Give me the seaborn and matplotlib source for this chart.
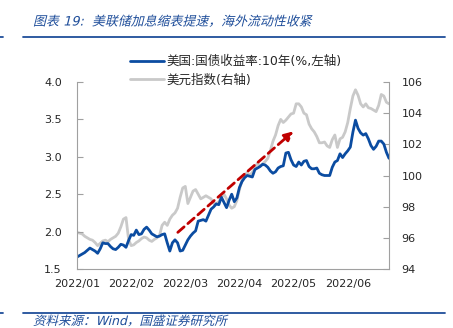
import numpy as np
import pandas as pd
import matplotlib
matplotlib.use("Agg")
import matplotlib.pyplot as plt
import seaborn as sns
from matplotlib.lines import Line2D
from matplotlib.patheffects import AbstractPathEffect
from matplotlib.transforms import Affine2D

# ---------------- data ----------------
us10y = [1.66, 1.68, 1.70, 1.72, 1.75, 1.78, 1.76, 1.74, 1.71, 1.77,
         1.85, 1.84, 1.84, 1.80, 1.77, 1.76, 1.79, 1.83, 1.82, 1.79,
         1.88, 1.96, 1.95, 2.02, 1.96, 1.97, 2.03, 2.06, 2.02, 1.97,
         1.95, 1.93, 1.94, 1.96, 1.97, 1.85, 1.74, 1.85, 1.89, 1.85,
         1.74, 1.75, 1.82, 1.89, 1.94, 1.98, 2.01, 2.14, 2.15, 2.16,
         2.14, 2.22, 2.30, 2.33, 2.37, 2.36, 2.46, 2.39, 2.32, 2.42,
         2.50, 2.40, 2.45, 2.59, 2.67, 2.72, 2.75, 2.74, 2.73, 2.83,
         2.85, 2.87, 2.90, 2.89, 2.86, 2.81, 2.78, 2.80, 2.85, 2.87,
         2.88, 3.05, 3.06, 2.96, 2.89, 2.87, 2.93, 2.89, 2.94, 2.95,
         2.87, 2.84, 2.84, 2.85, 2.78, 2.76, 2.75, 2.75, 2.75, 2.86,
         2.93, 2.95, 3.04, 2.99, 3.04, 3.08, 3.13, 3.33, 3.49, 3.38,
         3.32, 3.29, 3.31, 3.24, 3.15, 3.10, 3.14, 3.21, 3.21, 3.17,
         3.06, 2.98]
dxy = [96.35, 96.30, 96.25, 96.10, 96.00, 95.90, 95.85, 95.70, 95.50, 95.65,
       95.80, 95.85, 95.75, 95.90, 96.00, 96.10, 96.30, 96.70, 97.20, 97.30,
       95.90, 95.50, 95.55, 95.70, 95.80, 95.95, 96.05, 96.00, 95.85, 95.77,
       95.90, 96.00, 96.15, 96.80, 97.00, 96.80, 97.20, 97.45, 97.60, 97.90,
       98.60, 99.20, 99.30, 98.20, 98.60, 99.00, 99.10, 98.80, 98.50, 98.60,
       98.70, 98.60, 98.50, 98.20, 98.20, 98.30, 98.60, 98.80, 98.50, 98.10,
       97.90, 98.00, 98.40, 99.10, 99.70, 100.00, 100.20, 100.00, 100.20, 100.50,
       100.80, 100.60, 100.75, 100.90, 101.10, 101.60, 102.20, 102.60, 103.20, 103.60,
       103.40, 103.55, 103.75, 103.95, 104.00, 104.60, 104.60, 104.40, 104.00, 103.90,
       103.30, 103.00, 102.80, 102.50, 102.10, 102.10, 102.15, 101.90, 101.80, 102.30,
       102.60, 101.80, 102.35, 102.45, 102.80, 103.40, 104.30, 105.10, 105.50, 105.15,
       104.60, 104.40, 104.60, 104.35, 104.30, 104.20, 104.10, 104.50, 105.20, 105.10,
       104.70, 104.60]
tick_labels = ["2022/01", "2022/02", "2022/03", "2022/04", "2022/05", "2022/06"]
series_names = ["美国:国债收益率:10年(%,左轴)", "美元指数(右轴)"]
title_text = "图表 19:  美联储加息缩表提速，海外流动性收紧"
source_text = "资料来源：Wind，国盛证券研究所"
arrow_start = (39.1, 1.99)
arrow_end = (83.9, 3.34)

df = pd.DataFrame({"day": np.arange(len(us10y)), "us10y": us10y, "dxy": dxy})

# ---------------- style ----------------
sns.set_style("white")
FAM = ["DejaVu Sans", "Noto Sans CJK SC"]
plt.rcParams["font.family"] = FAM

BLUE = "#0B4CA1"
GRAY = "#C9C9C9"
TBLUE = "#1F4E9A"
AXC = "#A0A0A0"


class Skew(AbstractPathEffect):
    def __init__(self, deg=12):
        super().__init__()
        self.deg = deg

    def draw_path(self, renderer, gc, tpath, affine, rgbFace=None):
        m = affine.get_matrix()
        x0, y0 = m[0, 2], m[1, 2]
        sk = Affine2D().translate(-x0, -y0).skew_deg(self.deg, 0).translate(x0, y0)
        renderer.draw_path(gc, tpath, affine + sk, rgbFace)


W, H = 453, 328
fig = plt.figure(figsize=(W / 100, H / 100), dpi=100)
ax = fig.add_axes([77 / W, 1 - 269 / H, (389 - 77) / W, (269 - 82) / H])
ax2 = ax.twinx()

sns.lineplot(data=df, x="day", y="us10y", ax=ax, color=BLUE, lw=2.0,
             label=series_names[0], legend=False)
sns.lineplot(data=df, x="day", y="dxy", ax=ax2, color=GRAY, lw=2.0,
             label=series_names[1], legend=False)

ax.set_zorder(ax2.get_zorder() + 1)
ax.patch.set_visible(False)

n = len(us10y)
ax.set_xlim(0, n - 1)
ax.set_ylim(1.5, 4.0)
ax2.set_ylim(94, 106)
ax.set_yticks(np.arange(1.5, 4.01, 0.5))
ax.set_yticklabels([f"{v:.1f}" for v in np.arange(1.5, 4.01, 0.5)])
ax2.set_yticks(np.arange(94, 106.1, 2))
ax.set_xticks([21 * i for i in range(len(tick_labels))])
ax.set_xticklabels(tick_labels)
ax.set_xlabel("")
ax.set_ylabel("")
ax2.set_ylabel("")

for a in (ax, ax2):
    for s in a.spines.values():
        s.set_color(AXC)
        s.set_linewidth(0.8)
    a.spines["top"].set_visible(False)
ax.spines["right"].set_visible(False)
ax2.spines["left"].set_visible(False)
ax2.spines["bottom"].set_visible(False)

ax.tick_params(axis="y", direction="in", length=4, color=AXC, width=0.8,
               labelsize=8, pad=11, left=True)
ax2.tick_params(axis="y", direction="in", length=4, color=AXC, width=0.8,
                labelsize=8, pad=9, right=True)
ax.tick_params(axis="x", length=0, labelsize=8, pad=7)

ax.annotate("", xy=arrow_end, xytext=arrow_start,
            arrowprops=dict(arrowstyle="-|>", color="#C00000", lw=2,
                            linestyle=(0, (3, 1.8)), mutation_scale=13,
                            shrinkA=0, shrinkB=0))

handles = [Line2D([], [], color=BLUE, lw=2.0), Line2D([], [], color=GRAY, lw=2.0)]
fig.legend(handles, series_names, loc="upper left",
           bbox_to_anchor=(130 / W, 1 - 55 / H), frameon=False,
           prop={"family": FAM, "size": 9}, handlelength=2.7,
           handletextpad=0.2, labelspacing=0.45, borderpad=0, borderaxespad=0)

fig.text(33 / W, 1 - 22 / H, title_text, color=TBLUE, fontsize=9.3,
         va="center", ha="left", path_effects=[Skew(14)])
fig.text(33 / W, 1 - 321.5 / H, source_text, color=TBLUE, fontsize=9,
         va="center", ha="left", path_effects=[Skew(14)])

for yy in (36.7, 312.7):
    fig.add_artist(Line2D([23 / W, 445 / W], [1 - yy / H, 1 - yy / H],
                          transform=fig.transFigure, color=TBLUE, lw=1.3))
    fig.add_artist(Line2D([0, 3 / W], [1 - yy / H, 1 - yy / H],
                          transform=fig.transFigure, color=TBLUE, lw=1.3))

fig.savefig("out.png", dpi=100)
